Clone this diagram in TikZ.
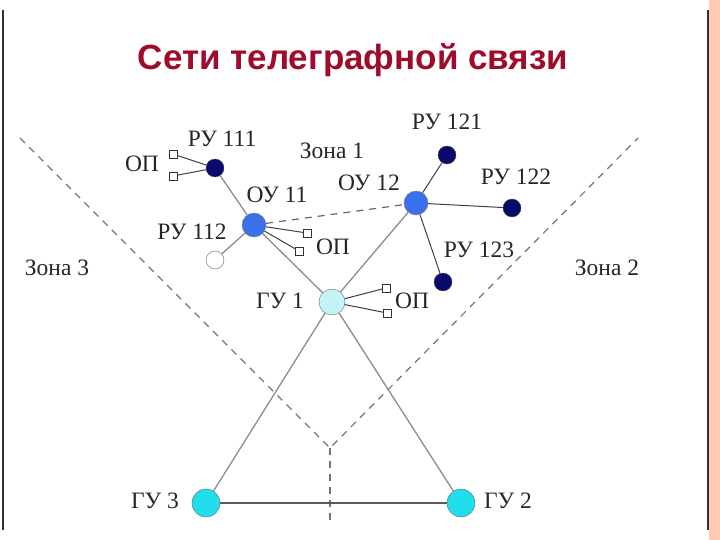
\documentclass[tikz,border=0pt]{standalone}
\usepackage{fontspec}
\setmainfont{Liberation Serif}
\newfontfamily\titlefont{Liberation Sans}
\usepackage{xcolor}
\usetikzlibrary{positioning,calc}

\definecolor{titlered}{HTML}{9E0B2B}
\definecolor{rublue}{HTML}{0A0A6E}
\definecolor{oublue}{HTML}{3A70EA}
\definecolor{gulight}{HTML}{C4F4F8}
\definecolor{gucyan}{HTML}{22DEEC}
\definecolor{framepeach}{HTML}{FDCBB6}

\begin{document}
\begin{tikzpicture}[
        x=1pt, y=-1pt,
        ru/.style={draw=black!70, circle, minimum size=18pt, inner sep=0pt, fill=rublue},
        ou/.style={draw=black!50, circle, minimum size=24pt, inner sep=0pt, fill=oublue},
        gu/.style={draw=black!60, circle, minimum size=28pt, inner sep=0pt, fill=gucyan},
        opbox/.style={draw=black!80, rectangle, minimum size=8pt, inner sep=0pt, fill=white},
        lbl/.style={font=\fontsize{23.5}{23.5}\selectfont, inner sep=0pt, text=black!85},
        link/.style={draw=black!45, line width=1.3pt},
        darklink/.style={draw=black!75, line width=1pt},
        zone/.style={draw=black!55, line width=1.2pt, dash pattern=on 7pt off 6pt}
    ]
        \useasboundingbox (0,0) rectangle (720,540);
        % slide frame
        \fill[framepeach] (709,0) rectangle (720,540);
        \draw[black!80, line width=2pt] (3,10) -- (3,530);
        \draw[black!80, line width=2pt] (708,10) -- (708,530);

        \node[font=\titlefont\bfseries\fontsize{35}{35}\selectfont, text=titlered] (title) at (353,60) {Сети телеграфной связи};

        % zone borders
        \coordinate (zl) at (20,138);
        \coordinate (zr) at (638,138);
        \coordinate (zc) at (330,448);
        \coordinate (zb) at (330,522);
        \draw[zone] (zl) -- (zc) -- (zr);
        \draw[zone] (zc) -- (zb);

        % nodes
        \node[gu, fill=gulight, minimum size=26pt] (gu1) at (332,302) {};
        \node[gu] (gu2) at (461,503) {};
        \node[gu] (gu3) at (206,503) {};
        \node[ou] (ou11) at (254,225) {};
        \node[ou] (ou12) at (416,203) {};
        \node[ru] (ru111) at (215,168) {};
        \node[ru, fill=white, draw=black!60] (ru112) at (215,260) {};
        \node[ru] (ru121) at (447,155) {};
        \node[ru] (ru122) at (512,208) {};
        \node[ru] (ru123) at (443,282) {};
        \node[opbox] (op1a) at (173,154) {};
        \node[opbox] (op1b) at (173,176) {};
        \node[opbox] (op2a) at (307,233) {};
        \node[opbox] (op2b) at (299,251) {};
        \node[opbox] (op3a) at (386,288) {};
        \node[opbox] (op3b) at (387,313) {};

        % links
        \draw[link] (ru111) -- (ou11);
        \draw[link] (ou11) -- (ru112);
        \draw[link] (ou11) -- (gu1);
        \draw[link] (ou12) -- (gu1);
        \draw[link] (gu1) -- (gu3);
        \draw[link] (gu1) -- (gu2);
        \draw[draw=black!65, line width=1.8pt] (gu3) -- (gu2);
        \draw[zone, draw=black!60] (ou11) -- (ou12);
        \draw[darklink] (ou12) -- (ru121);
        \draw[darklink] (ou12) -- (ru122);
        \draw[darklink] (ou12) -- (ru123);
        \draw[darklink] (op1a) -- (ru111);
        \draw[darklink] (op1b) -- (ru111);
        \draw[darklink] (ou11) -- (op2a);
        \draw[darklink] (ou11) -- (op2b);
        \draw[darklink] (gu1) -- (op3a);
        \draw[darklink] (gu1) -- (op3b);

        % labels
        \node[lbl] (lru111) at (222,139) {РУ 111};
        \node[lbl] (lop1) at (142,164) {ОП};
        \node[lbl] (lou11) at (277,195) {ОУ 11};
        \node[lbl] (lru112) at (192,232) {РУ 112};
        \node[lbl] (lop2) at (333,247) {ОП};
        \node[lbl] (lzone1) at (332,151) {Зона 1};
        \node[lbl] (lou12) at (369,183) {ОУ 12};
        \node[lbl] (lru121) at (447,122) {РУ 121};
        \node[lbl] (lru122) at (516,177) {РУ 122};
        \node[lbl] (lru123) at (479,250) {РУ 123};
        \node[lbl] (lgu1) at (280,301) {ГУ 1};
        \node[lbl] (lop3) at (412,301) {ОП};
        \node[lbl] (lgu3) at (155,501) {ГУ 3};
        \node[lbl] (lgu2) at (508,501) {ГУ 2};
        \node[lbl] (lzone3) at (57,268) {Зона 3};
        \node[lbl] (lzone2) at (607,268) {Зона 2};
    \end{tikzpicture}
\end{document}
